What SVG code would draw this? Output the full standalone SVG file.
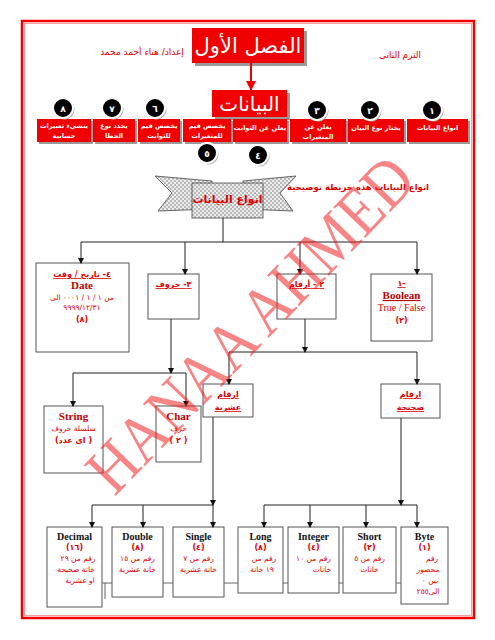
<svg xmlns="http://www.w3.org/2000/svg" width="495" height="640" viewBox="0 0 495 640">
<style>
.sh{fill:#9a9a9a}
.rb{fill:#f00000}
.bx{fill:#fff;stroke:#555;stroke-width:1}
.ln{stroke:#222;stroke-width:1;fill:none}
.lk{stroke:#666;stroke-width:1;fill:none}
.w{font-family:"DejaVu Sans",sans-serif;fill:#fff;font-size:6.5px;font-weight:bold;text-anchor:middle}
.big{font-family:"DejaVu Sans",sans-serif;fill:#fff;font-size:20px;text-anchor:middle}
.num{font-family:"DejaVu Sans",sans-serif;fill:#fff;font-size:9px;font-weight:bold;text-anchor:middle}
.ar{font-family:"DejaVu Sans",sans-serif;fill:#e00000;font-size:7.5px;text-anchor:middle}
.arb{font-family:"DejaVu Sans",sans-serif;fill:#e00000;font-size:8px;font-weight:bold;text-anchor:middle}
.u{text-decoration:underline}
.en{font-family:"Liberation Serif",serif;font-weight:bold;fill:#111;font-size:10px;text-anchor:middle}
.enr{font-family:"Liberation Serif",serif;font-weight:bold;fill:#c00000;font-size:11px;text-anchor:middle}
.enl{font-family:"Liberation Serif",serif;fill:#e00000;font-size:10px;text-anchor:middle}
</style>
<defs>
<marker id="ah" markerWidth="6" markerHeight="6" refX="5" refY="3" orient="auto" markerUnits="userSpaceOnUse">
<path d="M0,0 L6,3 L0,6 z" fill="#111"/>
</marker>
<marker id="ahr" markerWidth="10" markerHeight="10" refX="9" refY="5" orient="auto" markerUnits="userSpaceOnUse">
<path d="M0,0 L10,5 L0,10 z" fill="#f00000"/>
</marker>
<pattern id="chk" width="4" height="4" patternUnits="userSpaceOnUse">
<rect width="4" height="4" fill="#b8b8b8"/>
<rect width="2" height="2" fill="#eeeeee"/>
<rect x="2" y="2" width="2" height="2" fill="#eeeeee"/>
</pattern>
</defs>
<rect width="495" height="640" fill="#fff"/>
<rect x="22" y="21" width="452" height="597" fill="none" stroke="#f00000" stroke-width="2.5"/>
<rect x="24.5" y="23.5" width="447" height="592" fill="none" stroke="#f7a0a0" stroke-width="1"/>

<g id="title">
<rect class="sh" x="195" y="31" width="112" height="35"/>
<rect class="rb" x="192" y="28" width="112" height="35"/>
<text class="big" x="248" y="53" style="font-size:21px">الفصل الأول</text>
</g>
<g id="author"><text class="ar" x="142" y="55" style="font-size:9px">إعداد/ هناء أحمد محمد</text></g>
<g id="term"><text class="ar" x="400" y="58" style="font-size:9px">الترم الثانى</text></g>

<g id="data">
<rect class="sh" x="215" y="93" width="75" height="27"/>
<rect class="rb" x="212" y="90" width="75" height="27"/>
<text class="big" x="249.5" y="111">البيانات</text>
</g>

<g id="row">
<g id="b1"><rect class="sh" x="409" y="121" width="61" height="23"/><rect class="rb" x="407" y="119" width="61" height="23"/><text class="w" x="437.5" y="130">انواع البيانات</text></g>
<g id="b2"><rect class="sh" x="350" y="121" width="56" height="23"/><rect class="rb" x="348" y="119" width="56" height="23"/><text class="w" x="376" y="130">يختار نوع البيان</text></g>
<g id="b3"><rect class="sh" x="292" y="121" width="56" height="23"/><rect class="rb" x="290" y="119" width="56" height="23"/><text class="w" x="318" y="129">يعلن عن</text><text class="w" x="318" y="139">المتغيرات</text></g>
<g id="b4"><rect class="sh" x="235" y="121" width="54" height="23"/><rect class="rb" x="233" y="119" width="54" height="23"/><text class="w" x="260" y="130">يعلن عن الثوابت</text></g>
<g id="b5"><rect class="sh" x="185" y="121" width="48" height="23"/><rect class="rb" x="183" y="119" width="48" height="23"/><text class="w" x="207" y="128">يخصص قيم</text><text class="w" x="207" y="138">للمتغيرات</text></g>
<g id="b6"><rect class="sh" x="140" y="121" width="42" height="23"/><rect class="rb" x="138" y="119" width="42" height="23"/><text class="w" x="159" y="128">يخصص قيم</text><text class="w" x="159" y="138">للثوابت</text></g>
<g id="b7"><rect class="sh" x="95" y="121" width="42" height="23"/><rect class="rb" x="93" y="119" width="42" height="23"/><text class="w" x="114" y="128">يحدد نوع</text><text class="w" x="114" y="138">الخطا</text></g>
<g id="b8"><rect class="sh" x="39" y="121" width="54" height="23"/><rect class="rb" x="37" y="119" width="54" height="23"/><text class="w" x="64" y="128">ينشيء تعبيرات</text><text class="w" x="64" y="138">حسابية</text></g>
</g>

<g id="circles">
<g id="c1"><circle cx="433.5" cy="111.5" r="10" fill="#aaa"/><circle cx="432" cy="110" r="10" fill="#000" stroke="#fff" stroke-width="2"/><text class="num" x="432" y="113.5">١</text></g>
<g id="c2"><circle cx="371.5" cy="111.5" r="10" fill="#aaa"/><circle cx="370" cy="110" r="10" fill="#000" stroke="#fff" stroke-width="2"/><text class="num" x="370" y="113.5">٢</text></g>
<g id="c3"><circle cx="318.5" cy="111.5" r="10" fill="#aaa"/><circle cx="317" cy="110" r="10" fill="#000" stroke="#fff" stroke-width="2"/><text class="num" x="317" y="113.5">٣</text></g>
<g id="c4"><circle cx="259.5" cy="156.5" r="10" fill="#aaa"/><circle cx="258" cy="155" r="10" fill="#000" stroke="#fff" stroke-width="2"/><text class="num" x="258" y="158.5">٤</text></g>
<g id="c5"><circle cx="208.5" cy="154.5" r="10" fill="#aaa"/><circle cx="207" cy="153" r="10" fill="#000" stroke="#fff" stroke-width="2"/><text class="num" x="207" y="156.5">٥</text></g>
<g id="c6"><circle cx="156.5" cy="109.5" r="10" fill="#aaa"/><circle cx="155" cy="108" r="10" fill="#000" stroke="#fff" stroke-width="2"/><text class="num" x="155" y="111.5">٦</text></g>
<g id="c7"><circle cx="113.5" cy="109.5" r="10" fill="#aaa"/><circle cx="112" cy="108" r="10" fill="#000" stroke="#fff" stroke-width="2"/><text class="num" x="112" y="111.5">٧</text></g>
<g id="c8"><circle cx="64.5" cy="109.5" r="10" fill="#aaa"/><circle cx="63" cy="108" r="10" fill="#000" stroke="#fff" stroke-width="2"/><text class="num" x="63" y="111.5">٨</text></g>
</g>

<g id="banner">
<polygon points="155,176 212,181 212,209 158,211 172,193" fill="url(#chk)" stroke="#444" stroke-width="0.8"/>
<polygon points="296,176 243,181 243,209 293,211 280,193" fill="url(#chk)" stroke="#444" stroke-width="0.8"/>
<polygon points="203,209 192,213 203,218" fill="#888" stroke="#444" stroke-width="0.6"/>
<polygon points="252,209 263,213 252,218" fill="#888" stroke="#444" stroke-width="0.6"/>
<rect x="192" y="183" width="71" height="35" fill="url(#chk)" stroke="#444" stroke-width="0.8"/>
<text class="arb" x="227.5" y="203" style="font-size:11px">انواع البيانات</text>
</g>
<g id="note"><text class="arb" x="358" y="190" style="font-size:8.5px">انواع البيانات هذه خريطة توضيحية</text></g>

<g id="n4"><rect class="bx" x="36" y="263" width="93" height="89"/>
<text class="arb u" x="82" y="277">٤- تاريخ / وقت</text>
<text class="enr" x="82" y="289">Date</text>
<text class="ar" x="82" y="300">من ١ / ١ / ٠٠٠١ الى</text>
<text class="ar" x="82" y="310">٩٩٩٩/١٢/٣١</text>
<text class="arb" x="82" y="322">(٨)</text></g>
<g id="n3"><rect class="bx" x="148" y="274" width="51" height="45"/>
<text class="arb u" x="173.5" y="287">٣- حروف</text></g>
<g id="n2"><rect class="bx" x="277" y="274" width="59" height="45"/>
<text class="arb u" x="306.5" y="287">٢ - أرقام</text></g>
<g id="n1"><rect class="bx" x="371" y="274" width="61" height="67"/>
<text class="arb u" x="401.5" y="286">١-</text>
<text class="enr u" x="401.5" y="299">Boolean</text>
<text class="enl" x="401.5" y="311">True / False</text>
<text class="arb" x="401.5" y="323">(٢)</text></g>

<g id="nString"><rect class="bx" x="44" y="406" width="59" height="67"/>
<text class="enr" x="73.5" y="420">String</text>
<text class="ar" x="73.5" y="431">سلسلة حروف</text>
<text class="arb" x="73.5" y="443">(اى عدد )</text></g>
<g id="nChar"><rect class="bx" x="156" y="406" width="45" height="56"/>
<text class="enr" x="178.5" y="420">Char</text>
<text class="ar" x="178.5" y="431">حرف</text>
<text class="arb" x="178.5" y="443">( ٢ )</text></g>

<g id="nFloat"><rect class="bx" x="203" y="384" width="50" height="33"/>
<text class="arb u" x="228" y="397">ارقام</text>
<text class="arb u" x="228" y="410">عشرية</text></g>
<g id="nInt"><rect class="bx" x="381" y="384" width="59" height="34"/>
<text class="arb u" x="410.5" y="397">ارقام</text>
<text class="arb u" x="410.5" y="410">صحيحة</text></g>

<g id="nDecimal"><rect class="bx" x="47" y="527" width="55" height="80"/>
<text class="en" x="74.5" y="540">Decimal</text>
<text class="arb" x="74.5" y="550">(١٦)</text>
<text class="ar" x="78" y="561">رقم من ٢٩</text>
<text class="ar" x="76" y="572">خانة صحيحة</text>
<text class="ar" x="80" y="583">او عشرية</text></g>
<g id="nDouble"><rect class="bx" x="112" y="527" width="51" height="70"/>
<text class="en" x="137.5" y="540">Double</text>
<text class="arb" x="137.5" y="550">(٨)</text>
<text class="ar" x="137.5" y="561">رقم من ١٥</text>
<text class="ar" x="137.5" y="572">خانة عشرية</text></g>
<g id="nSingle"><rect class="bx" x="173" y="527" width="51" height="70"/>
<text class="en" x="198.5" y="540">Single</text>
<text class="arb" x="198.5" y="550">(٤)</text>
<text class="ar" x="198.5" y="561">رقم من ٧</text>
<text class="ar" x="198.5" y="572">خانة عشرية</text></g>
<g id="nLong"><rect class="bx" x="238" y="527" width="45" height="66"/>
<text class="en" x="260.5" y="540">Long</text>
<text class="arb" x="260.5" y="550">(٨)</text>
<text class="ar" x="264" y="561">رقم من</text>
<text class="ar" x="262" y="572">١٩ خانة</text></g>
<g id="nInteger"><rect class="bx" x="288" y="527" width="51" height="66"/>
<text class="en" x="313.5" y="540">Integer</text>
<text class="arb" x="313.5" y="550">(٤)</text>
<text class="ar" x="313.5" y="561">رقم من ١٠</text>
<text class="ar" x="322" y="572">خانات</text></g>
<g id="nShort"><rect class="bx" x="343" y="527" width="53" height="66"/>
<text class="en" x="369.5" y="540">Short</text>
<text class="arb" x="369.5" y="550">(٢)</text>
<text class="ar" x="369.5" y="561">رقم من ٥</text>
<text class="ar" x="369.5" y="572">خانات</text></g>
<g id="nByte"><rect class="bx" x="401" y="527" width="47" height="77"/>
<text class="en" x="424.5" y="540">Byte</text>
<text class="arb" x="424.5" y="550">(١)</text>
<text class="ar" x="432" y="561">رقم</text>
<text class="ar" x="428" y="572">محصور</text>
<text class="ar" x="430" y="583">بين ٠</text>
<text class="ar" x="428" y="594">الى٢٥٥</text></g>

<g id="connectors">
<line x1="251" y1="63" x2="251" y2="90" stroke="#f00000" stroke-width="2" marker-end="url(#ahr)"/>
<line class="ln" x1="223" y1="218" x2="223" y2="242"/>
<line class="ln" x1="81" y1="242" x2="417" y2="242"/>
<line class="ln" x1="81" y1="242" x2="81" y2="263" marker-end="url(#ah)"/>
<line class="ln" x1="185" y1="242" x2="185" y2="274" marker-end="url(#ah)"/>
<line class="ln" x1="300" y1="242" x2="300" y2="274" marker-end="url(#ah)"/>
<line class="ln" x1="417" y1="242" x2="417" y2="274" marker-end="url(#ah)"/>
<line class="ln" x1="171" y1="319" x2="171" y2="373" marker-end="url(#ah)"/>
<line class="ln" x1="73" y1="373" x2="186" y2="373"/>
<line class="ln" x1="73" y1="373" x2="73" y2="406" marker-end="url(#ah)"/>
<line class="ln" x1="186" y1="373" x2="186" y2="406" marker-end="url(#ah)"/>
<line class="ln" x1="305" y1="319" x2="305" y2="352" marker-end="url(#ah)"/>
<line class="ln" x1="229" y1="352" x2="417" y2="352"/>
<line class="ln" x1="229" y1="352" x2="229" y2="384" marker-end="url(#ah)"/>
<line class="ln" x1="417" y1="352" x2="417" y2="384" marker-end="url(#ah)"/>
<line class="ln" x1="213" y1="417" x2="213" y2="505" marker-end="url(#ah)"/>
<line class="ln" x1="92" y1="505" x2="213" y2="505"/>
<line class="ln" x1="92" y1="505" x2="92" y2="527" marker-end="url(#ah)"/>
<line class="ln" x1="143" y1="505" x2="143" y2="527" marker-end="url(#ah)"/>
<line class="ln" x1="213" y1="505" x2="213" y2="527" marker-end="url(#ah)"/>
<line class="ln" x1="401" y1="418" x2="401" y2="505" marker-end="url(#ah)"/>
<line class="ln" x1="264" y1="505" x2="417" y2="505"/>
<line class="ln" x1="264" y1="505" x2="264" y2="527" marker-end="url(#ah)"/>
<line class="ln" x1="310" y1="505" x2="310" y2="527" marker-end="url(#ah)"/>
<line class="ln" x1="366" y1="505" x2="366" y2="527" marker-end="url(#ah)"/>
<line class="ln" x1="417" y1="505" x2="417" y2="527" marker-end="url(#ah)"/>
<line class="lk" x1="102" y1="583" x2="112" y2="583"/>
<line class="lk" x1="105" y1="583" x2="105" y2="599"/>
<line class="lk" x1="163" y1="583" x2="173" y2="583"/>
<line class="lk" x1="224" y1="583" x2="238" y2="583"/>
<line class="lk" x1="283" y1="583" x2="288" y2="583"/>
<line class="lk" x1="339" y1="583" x2="343" y2="583"/>
<line class="lk" x1="396" y1="583" x2="401" y2="583"/>
</g>

<g id="watermark">
<text x="0" y="0" transform="translate(250 324) rotate(-46) scale(1 1.15) translate(0 20)" font-family="Liberation Serif, serif" font-size="59" fill="#f02020" fill-opacity="0.55" text-anchor="middle">HANAA AHMED</text>
</g>
</svg>
